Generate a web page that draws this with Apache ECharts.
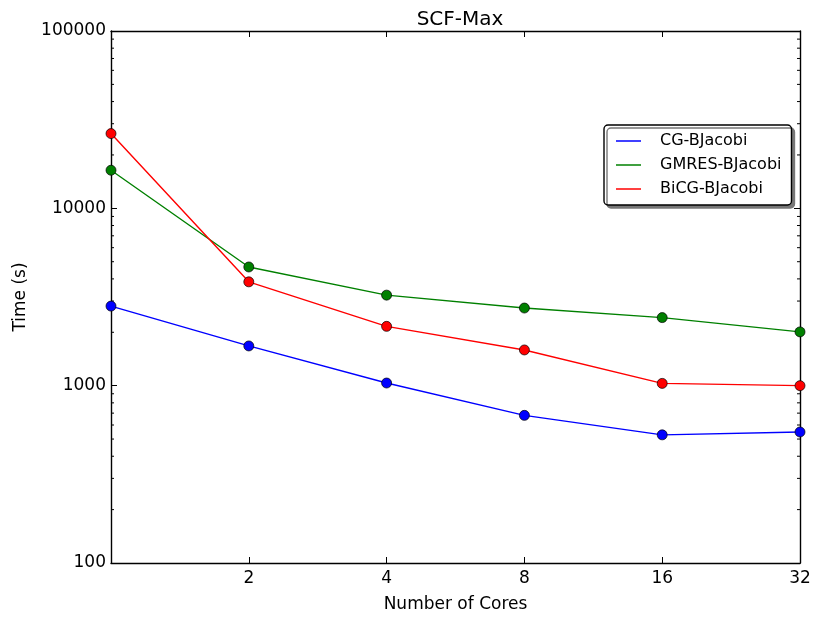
<!DOCTYPE html>
<html><head><meta charset="utf-8">
<script src="https://cdn.jsdelivr.net/npm/echarts@6/dist/echarts.min.js"></script>
<style>html,body{margin:0;padding:0;background:#fff}#c{width:817px;height:618px}</style>
</head><body><div id="c"></div>
<script>
const cores = [1, 2, 4, 8, 16, 32];
const cgBJacobi = [2810, 1675, 1035, 680, 528, 548];
const gmresBJacobi = [16400, 4670, 3240, 2740, 2420, 2010];
const bicgBJacobi = [26400, 3850, 2160, 1590, 1030, 1000];
const xTickLabels = ['', '2', '4', '8', '16', '32'];
const yMinorTicks = [200,300,400,500,600,700,800,900,2000,3000,4000,5000,6000,7000,8000,9000,20000,30000,40000,50000,60000,70000,80000,90000];

const FONT = 'DejaVu Sans';
const chart = echarts.init(document.getElementById('c'));
const pair = arr => cores.map((c, i) => [c, arr[i]]);
const axisLine = {show: true, onZero: false, lineStyle: {color: '#000', width: 1.4}};
const tick = {show: true, inside: true, length: 6, lineStyle: {color: '#000', width: 1}};

function lineSeries(name, color, data) {
  return {
    name, type: 'line', data: pair(data), xAxisIndex: 0, yAxisIndex: 0,
    symbol: 'circle', symbolSize: 10, clip: true,
    lineStyle: {color, width: 1.4},
    itemStyle: {color, borderColor: '#000', borderWidth: 0.7},
    emphasis: {disabled: true}, animation: false
  };
}

chart.setOption({
  animation: false,
  title: {text: 'SCF-Max', left: 455, textAlign: 'center', top: 5,
    textStyle: {fontFamily: FONT, fontSize: 20, fontWeight: 'normal', color: '#000'}},
  grid: {left: 111, right: 17, top: 31, bottom: 52, containLabel: false},
  legend: {
    orient: 'vertical', left: 604, top: 125,
    data: ['CG-BJacobi', 'GMRES-BJacobi', 'BiCG-BJacobi'],
    icon: 'rect', itemWidth: 25, itemHeight: 1.5, itemGap: 8,
    itemStyle: {borderWidth: 0},
    padding: [8, 10, 8, 12],
    backgroundColor: '#fff', borderColor: '#000', borderWidth: 1.4, borderRadius: 4,
    shadowColor: '#777', shadowOffsetX: 3, shadowOffsetY: 3, shadowBlur: 0,
    textStyle: {fontFamily: FONT, fontSize: 16, color: '#000', padding: [0, 0, 0, 14]}
  },
  xAxis: [
    {type: 'log', logBase: 2, min: 1, max: 32, interval: 1, position: 'bottom',
      name: 'Number of Cores', nameLocation: 'middle', nameGap: 33,
      nameTextStyle: {fontFamily: FONT, fontSize: 17, color: '#000'},
      axisLine, axisTick: tick, splitLine: {show: false},
      axisLabel: {fontFamily: FONT, fontSize: 17, color: '#000', margin: 7,
        formatter: v => { const i = cores.indexOf(Math.round(v)); return i >= 0 ? xTickLabels[i] : ''; }}},
    {type: 'log', logBase: 2, min: 1, max: 32, interval: 1, position: 'top',
      axisLine, axisTick: tick, splitLine: {show: false}, axisLabel: {show: false}}
  ],
  yAxis: [
    {type: 'log', logBase: 10, min: 100, max: 100000, position: 'left',
      name: 'Time (s)', nameLocation: 'middle', nameGap: 82,
      nameTextStyle: {fontFamily: FONT, fontSize: 17, color: '#000'},
      axisLine, axisTick: tick, splitLine: {show: false},
      axisLabel: {fontFamily: FONT, fontSize: 17, color: '#000', margin: 5,
        formatter: v => String(Math.round(v))}},
    {type: 'log', logBase: 10, min: 100, max: 100000, position: 'right',
      axisLine, axisTick: tick, splitLine: {show: false}, axisLabel: {show: false}}
  ],
  series: [
    {
      type: 'custom', xAxisIndex: 0, yAxisIndex: 0, silent: true, clip: false,
      data: yMinorTicks.map(v => [1, v]),
      renderItem: (params, api) => {
        const v = api.value(1);
        const l = api.coord([1, v]);
        const r = api.coord([32, v]);
        const st = {stroke: '#000', lineWidth: 1};
        return {type: 'group', children: [
          {type: 'line', shape: {x1: l[0], y1: l[1], x2: l[0] + 3, y2: l[1]}, style: st},
          {type: 'line', shape: {x1: r[0], y1: r[1], x2: r[0] - 3, y2: r[1]}, style: st}
        ]};
      }
    },
    lineSeries('CG-BJacobi', '#0000ff', cgBJacobi),
    lineSeries('GMRES-BJacobi', '#008000', gmresBJacobi),
    lineSeries('BiCG-BJacobi', '#ff0000', bicgBJacobi)
  ]
});
</script></body></html>
